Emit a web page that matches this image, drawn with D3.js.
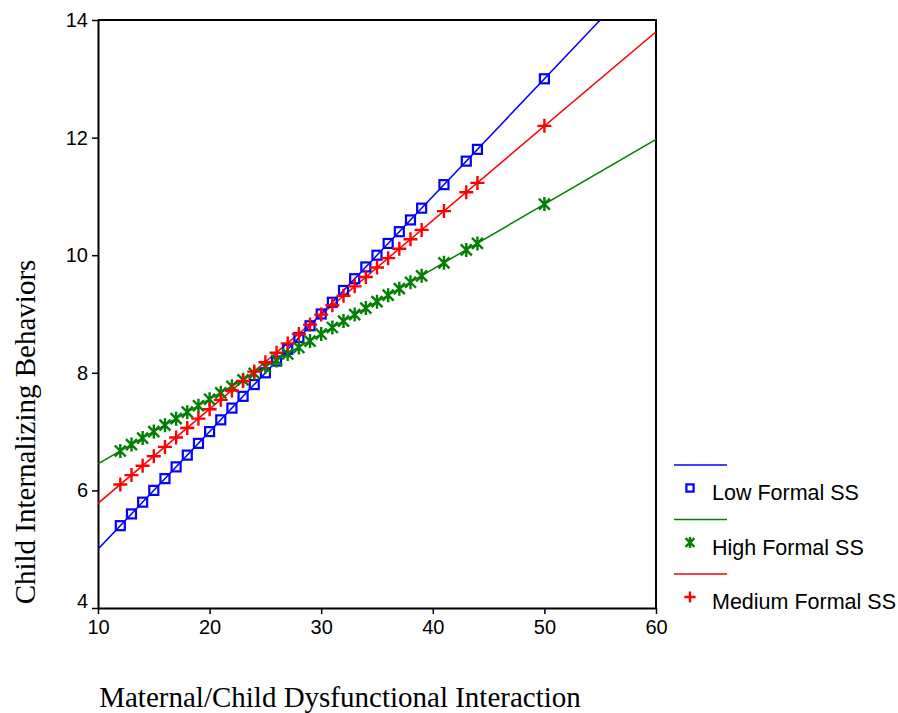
<!DOCTYPE html>
<html>
<head>
<script src="https://d3js.org/d3.v7.min.js"></script>
<style>
  body { margin: 0; background: #fff; }
</style>
</head>
<body>
<div id="target"></div>
<script>
// observed x values (same for all groups)
var xVals = [12,13,14,15,16,17,18,19,20,21,22,23,24,25,26,27,28,29,30,31,32,33,34,35,36,37,38,39,41,43,44,50];

// predicted values
var lowVals = [5.40,5.60,5.80,6.00,6.20,6.40,6.60,6.80,7.00,7.20,7.40,7.60,7.80,8.00,8.20,8.40,8.60,8.80,9.00,9.20,9.40,9.60,9.80,10.00,10.20,10.40,10.60,10.80,11.20,11.60,11.80,13.00];
var highVals = [6.67,6.78,6.89,7.00,7.11,7.22,7.33,7.44,7.55,7.66,7.77,7.88,7.99,8.10,8.21,8.32,8.43,8.54,8.66,8.77,8.88,8.99,9.10,9.21,9.32,9.43,9.54,9.65,9.87,10.09,10.20,10.87];
var medVals = [6.10,6.26,6.42,6.58,6.74,6.90,7.06,7.22,7.38,7.54,7.70,7.86,8.02,8.18,8.34,8.50,8.66,8.82,8.99,9.15,9.31,9.47,9.63,9.79,9.95,10.11,10.27,10.43,10.75,11.07,11.23,12.20];

// fitted line end points (x = 10 and x = 60)
var lowLine = [[10, 5.00], [60, 15.00]];
var highLine = [[10, 6.45], [60, 11.97]];
var medLine = [[10, 5.78], [60, 13.80]];

var xTicks = [10, 20, 30, 40, 50, 60];
var yTicks = [4, 6, 8, 10, 12, 14];

var names = ['Low Formal SS', 'High Formal SS', 'Medium Formal SS'];
var colors = ['#0000ff', '#008000', '#ff0000'];
var shapes = ['square', 'asterisk', 'plus'];

var W = 898, H = 713;
var pLeft = 98, pRight = 656, pTop = 20, pBottom = 608;

var svg = d3.select('#target').append('svg')
    .attr('width', W)
    .attr('height', H);

var x = d3.scaleLinear().domain([10, 60]).range([pLeft, pRight]);
var y = d3.scaleLinear().domain([4, 14]).range([pBottom, pTop]);

svg.append('clipPath').attr('id', 'plotclip')
    .append('rect')
    .attr('x', pLeft).attr('y', pTop)
    .attr('width', pRight - pLeft).attr('height', pBottom - pTop);

// frame (top and right)
svg.append('path')
    .attr('d', 'M' + pLeft + ',' + pTop + 'H' + pRight + 'V' + pBottom)
    .attr('fill', 'none')
    .attr('stroke', '#000')
    .attr('stroke-width', 2);

var xAxis = svg.append('g')
    .attr('transform', 'translate(0,' + pBottom + ')')
    .call(d3.axisBottom(x).tickValues(xTicks).tickSize(6).tickSizeOuter(0).tickPadding(6));
var yAxis = svg.append('g')
    .attr('transform', 'translate(' + pLeft + ',0)')
    .call(d3.axisLeft(y).tickValues(yTicks).tickSize(6).tickSizeOuter(0).tickPadding(4));

[xAxis, yAxis].forEach(function(g) {
    g.select('.domain').attr('stroke-width', 2).attr('stroke', '#000');
    g.selectAll('.tick line').attr('stroke-width', 1.5).attr('stroke', '#000');
    g.selectAll('.tick text')
        .attr('fill', '#000')
        .style('font-family', 'Liberation Sans, Arial, sans-serif')
        .style('font-size', '20px');
});
// the bottom label sits a bit higher
yAxis.selectAll('.tick text').filter(function(d) { return d === 4; }).attr('dy', '-0.05em');

var plot = svg.append('g').attr('clip-path', 'url(#plotclip)');
var line = d3.line().x(function(d) { return x(d[0]); }).y(function(d) { return y(d[1]); });

var series = [lowVals, highVals, medVals];
var lines = [lowLine, highLine, medLine];

function drawMarker(g, shape, color, s) {
    if (shape === 'square') {
        g.append('rect').attr('x', -4.5 * s).attr('y', -4.5 * s).attr('width', 9 * s).attr('height', 9 * s)
            .attr('fill', 'none').attr('stroke', color).attr('stroke-width', 2.2);
    } else if (shape === 'plus') {
        g.append('path').attr('d', 'M' + (-7 * s) + ',0H' + (7 * s) + 'M0,' + (-7 * s) + 'V' + (7 * s))
            .attr('stroke', color).attr('stroke-width', 2.4);
    } else {
        var a = 5.5 * s, b = 7 * s;
        g.append('path').attr('d', 'M' + (-a) + ',' + (-a) + 'L' + a + ',' + a +
                'M' + (-a) + ',' + a + 'L' + a + ',' + (-a) + 'M0,' + (-b) + 'V' + b)
            .attr('stroke', color).attr('stroke-width', 2.4);
    }
}

series.forEach(function(vals, i) {
    plot.append('path')
        .datum(lines[i])
        .attr('d', line)
        .attr('fill', 'none')
        .attr('stroke', colors[i])
        .attr('stroke-width', 1.5);
});

series.forEach(function(vals, i) {
    plot.selectAll('.m' + i)
        .data(xVals)
        .enter()
        .append('g')
        .attr('class', 'm' + i)
        .attr('transform', function(d, j) {
            return 'translate(' + x(d) + ',' + y(vals[j]) + ')';
        })
        .each(function() { drawMarker(d3.select(this), shapes[i], colors[i], 1); });
});

// legend
var legend = svg.append('g');
names.forEach(function(n, i) {
    var ly = 465 + i * 54.5;
    legend.append('line')
        .attr('x1', 674).attr('x2', 727)
        .attr('y1', ly).attr('y2', ly)
        .attr('stroke', colors[i]).attr('stroke-width', 1.5);
    var m = legend.append('g').attr('transform', 'translate(690,' + (ly + 23) + ')');
    drawMarker(m, shapes[i], colors[i], 0.8);
    legend.append('text')
        .attr('x', 712)
        .attr('y', ly + 35)
        .style('font-family', 'Liberation Sans, Arial, sans-serif')
        .style('font-size', '21.5px')
        .attr('fill', '#000')
        .text(n);
});

// axis titles
svg.append('text')
    .attr('x', 340)
    .attr('y', 707)
    .attr('text-anchor', 'middle')
    .style('font-family', 'Liberation Serif, Times New Roman, serif')
    .style('font-size', '29px')
    .text('Maternal/Child Dysfunctional Interaction');

svg.append('text')
    .attr('transform', 'translate(35,432) rotate(-90)')
    .attr('text-anchor', 'middle')
    .style('font-family', 'Liberation Serif, Times New Roman, serif')
    .style('font-size', '29px')
    .text('Child Internalizing Behaviors');
</script>
</body>
</html>
